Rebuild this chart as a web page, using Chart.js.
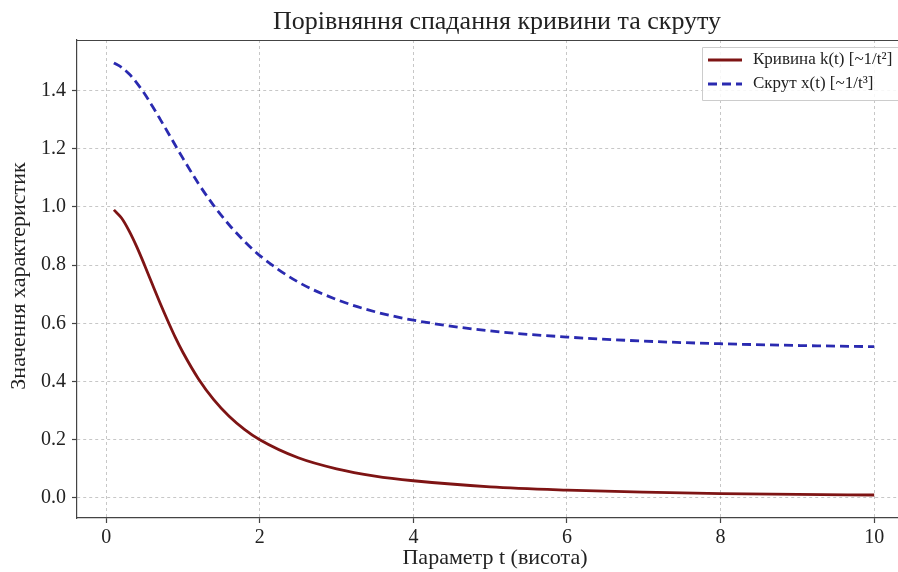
<!DOCTYPE html>
<html>
<head>
<meta charset="utf-8">
<script src="https://cdn.jsdelivr.net/npm/chart.js@4/dist/chart.umd.min.js"></script>
<style>
html,body{margin:0;padding:0;background:#fff;}
canvas{display:block;}
</style>
</head>
<body>
<canvas id="c" width="898" height="572"></canvas>
<script>
// ---- data ----
const tValues = [0.1, 0.2, 0.3, 0.4, 0.5, 0.6, 0.7, 0.8, 0.9, 1.0, 1.2, 1.4, 1.6, 1.8, 2.0, 2.5, 3, 3.5, 4, 5, 6, 7, 8, 9, 10];
const curvatureValues = [0.990, 0.962, 0.917, 0.862, 0.800, 0.735, 0.671, 0.610, 0.552, 0.500, 0.410, 0.338, 0.281, 0.236, 0.200, 0.138, 0.100, 0.075, 0.059, 0.038, 0.027, 0.020, 0.015, 0.012, 0.010];
const torsionValues = [1.495, 1.480, 1.457, 1.426, 1.389, 1.347, 1.303, 1.258, 1.212, 1.167, 1.081, 1.005, 0.939, 0.882, 0.833, 0.742, 0.682, 0.640, 0.611, 0.574, 0.553, 0.539, 0.530, 0.524, 0.520];
const seriesLabels = ['Кривина k(t) [~1/t²]', 'Скрут x(t) [~1/t³]'];
const chartTitle = 'Порівняння спадання кривини та скруту';
const xTitle = 'Параметр t (висота)';
const yTitle = 'Значення характеристик';

const FONT = '"Liberation Serif", "DejaVu Serif", serif';
const TEXT = '#222222';

const toPoints = (ys) => tValues.map((t, i) => ({x: t, y: ys[i]}));

const decor = {
  id: 'decor',
  afterDatasetsDraw(chart) {
    const ctx = chart.ctx;
    const a = chart.chartArea;
    ctx.save();
    // top frame line
    ctx.strokeStyle = '#444';
    ctx.lineWidth = 1.2;
    ctx.beginPath();
    ctx.moveTo(a.left, a.top + 0.5);
    ctx.lineTo(a.right, a.top + 0.5);
    ctx.stroke();
    // legend box
    const bx = 702, by = 47, bw = 205, bh = 53;
    ctx.fillStyle = 'rgba(255,255,255,0.85)';
    ctx.strokeStyle = '#cccccc';
    ctx.lineWidth = 1;
    ctx.beginPath();
    ctx.rect(bx + 0.5, by + 0.5, bw, bh);
    ctx.fill();
    ctx.stroke();
    const rows = [60, 84];
    chart.data.datasets.forEach((ds, i) => {
      ctx.strokeStyle = ds.borderColor;
      ctx.lineWidth = ds.borderWidth;
      ctx.setLineDash(ds.borderDash || []);
      ctx.beginPath();
      ctx.moveTo(708, rows[i]);
      ctx.lineTo(742, rows[i]);
      ctx.stroke();
      ctx.setLineDash([]);
      ctx.fillStyle = TEXT;
      ctx.font = '17px ' + FONT;
      ctx.textAlign = 'left';
      ctx.textBaseline = 'middle';
      ctx.fillText(ds.label, 753, rows[i]);
    });
    ctx.restore();
  },
  afterDraw(chart) {
    const ctx = chart.ctx;
    ctx.save();
    ctx.fillStyle = TEXT;
    ctx.textAlign = 'center';
    ctx.textBaseline = 'middle';
    ctx.font = '26px ' + FONT;
    ctx.fillText(chartTitle, 497, 22);
    ctx.font = '22px ' + FONT;
    ctx.fillText(xTitle, 495, 558);
    ctx.translate(19, 276);
    ctx.rotate(-Math.PI / 2);
    ctx.fillText(yTitle, 0, 0);
    ctx.restore();
  }
};

new Chart(document.getElementById('c'), {
  type: 'line',
  data: {
    datasets: [
      {
        label: seriesLabels[0],
        data: toPoints(curvatureValues),
        borderColor: '#7e1414',
        borderWidth: 2.8,
        pointRadius: 0,
        cubicInterpolationMode: 'monotone',
        fill: false
      },
      {
        label: seriesLabels[1],
        data: toPoints(torsionValues),
        borderColor: '#2a2ab0',
        borderWidth: 2.8,
        borderDash: [9, 5],
        pointRadius: 0,
        cubicInterpolationMode: 'monotone',
        fill: false
      }
    ]
  },
  options: {
    responsive: false,
    animation: false,
    devicePixelRatio: 1,
    layout: {padding: {top: 40, right: 0, left: 0, bottom: 0}},
    plugins: {
      legend: {display: false},
      title: {display: false},
      tooltip: {enabled: false}
    },
    scales: {
      x: {
        type: 'linear',
        min: -0.38,
        max: 10.31,
        afterFit: (s) => { s.height = 54; },
        ticks: {
          stepSize: 2,
          includeBounds: false,
          color: TEXT,
          font: {family: FONT, size: 20},
          padding: 3,
          maxRotation: 0,
          callback: (v) => String(v)
        },
        grid: {
          color: 'rgba(0,0,0,0.22)',
          lineWidth: 1,
          tickColor: '#444',
          tickLength: 5,
          tickWidth: 1.2
        },
        border: {display: true, color: '#444', width: 1.2, dash: [3, 3]}
      },
      y: {
        type: 'linear',
        min: -0.069,
        max: 1.574,
        afterFit: (s) => { s.width = 77; },
        ticks: {
          stepSize: 0.2,
          includeBounds: false,
          color: TEXT,
          font: {family: FONT, size: 20},
          padding: 6,
          callback: (v) => Number(v).toFixed(1)
        },
        grid: {
          color: 'rgba(0,0,0,0.22)',
          lineWidth: 1,
          tickColor: '#444',
          tickLength: 5,
          tickWidth: 1.2
        },
        border: {display: true, color: '#444', width: 1.2, dash: [3, 3]}
      }
    }
  },
  plugins: [decor]
});
</script>
</body>
</html>
